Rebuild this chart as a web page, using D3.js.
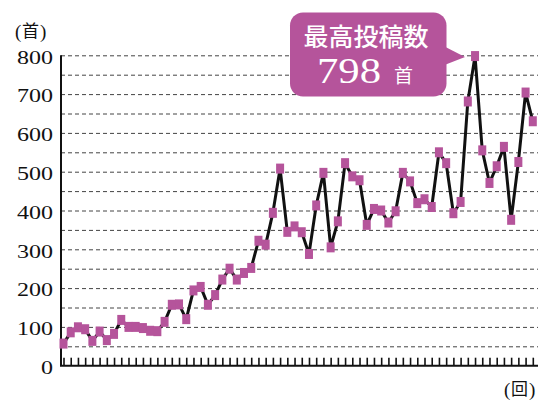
<!DOCTYPE html>
<html>
<head>
<meta charset="utf-8">
<script src="https://cdn.jsdelivr.net/npm/d3@7"></script>
</head>
<body style="margin:0">
<script>
// posts per round (首 per 回)
const rounds = d3.range(1, 67);
const posts = [
  57, 86, 99, 94, 64, 88, 66, 82, 118, 100,
  100, 97, 90, 89, 113, 157, 158, 120, 194, 203,
  157, 182, 222, 250, 222, 239, 252, 322, 312, 394,
  508, 345, 359, 344, 288, 413, 497, 305, 372, 522,
  488, 478, 363, 404, 400, 369, 398, 497, 475, 419,
  429, 409, 550, 522, 393, 422, 681, 798, 555, 471,
  514, 564, 376, 525, 704, 630,
];
const yTicks = [0, 100, 200, 300, 400, 500, 600, 700, 800];
const gridValues = d3.range(50, 801, 50);
const calloutTitle = '最高投稿数';
const maxPosts = d3.max(posts);

const purple = '#b5549b';
const SERIF = 'Liberation Serif';
const CJK = 'Noto Sans CJK JP';

const svg = d3.select('body')
  .append('svg')
  .attr('width', 556)
  .attr('height', 405)
  .style('display', 'block');

// plot frame
const plotLeft = 61;
const plotRight = 538;
const plotTop = 55.3;
const plotBottom = 365.7;

const x = d3.scaleLinear().domain([1, 66]).range([63.5, 532.8]);
const y = d3.scaleLinear().domain([0, 800]).range([plotBottom, plotTop]);

// dashed grid
svg.append('g')
  .attr('transform', `translate(${plotLeft},0)`)
  .call(d3.axisLeft(y).tickValues(gridValues).tickSize(-(plotRight - plotLeft)).tickFormat(''))
  .call(g => g.select('.domain').remove())
  .call(g => g.selectAll('.tick line')
    .attr('stroke', '#444')
    .attr('stroke-width', 1)
    .attr('stroke-dasharray', '4,3'));

// y labels, scaled sideways to the wide digits of the reference
svg.append('g')
  .attr('transform', `translate(${plotLeft},0)`)
  .call(d3.axisLeft(y).tickValues(yTicks).tickSize(0).tickPadding(8))
  .call(g => g.select('.domain').remove())
  .call(g => g.selectAll('.tick text')
    .attr('font-family', SERIF)
    .attr('font-size', 18.5)
    .attr('dy', '0.72em')
    .attr('y', -5.5)
    .attr('x', -8 / 1.3)
    .attr('fill', '#111')
    .attr('transform', 'scale(1.3,1)'));

// y axis line
svg.append('line')
  .attr('x1', plotLeft).attr('x2', plotLeft)
  .attr('y1', plotTop).attr('y2', plotBottom)
  .attr('stroke', '#111')
  .attr('stroke-width', 2);

// x axis with inward ticks, no labels
svg.append('g')
  .attr('transform', `translate(0,${plotBottom})`)
  .call(d3.axisBottom(x).tickValues(rounds).tickSize(-8).tickFormat(''))
  .call(g => g.select('.domain').remove())
  .call(g => g.selectAll('.tick line').attr('stroke', '#111').attr('stroke-width', 1.6));

svg.append('line')
  .attr('x1', plotLeft - 1).attr('x2', plotRight)
  .attr('y1', plotBottom).attr('y2', plotBottom)
  .attr('stroke', '#111')
  .attr('stroke-width', 2);

// series line
const line = d3.line()
  .x((d, i) => x(rounds[i]))
  .y(d => y(d));

svg.append('path')
  .datum(posts)
  .attr('fill', 'none')
  .attr('stroke', '#111')
  .attr('stroke-width', 3)
  .attr('stroke-linejoin', 'round')
  .attr('d', line);

// square markers
const mw = 8;
const mh = 10;
svg.append('g')
  .selectAll('rect')
  .data(posts)
  .enter()
  .append('rect')
  .attr('x', (d, i) => x(rounds[i]) - mw / 2)
  .attr('y', d => y(d) - mh / 2)
  .attr('width', mw)
  .attr('height', mh)
  .attr('fill', purple);

// unit labels
const unitLabel = (tx, ty, unit) => {
  svg.append('text')
    .attr('x', tx).attr('y', ty)
    .attr('fill', '#111')
    .attr('font-family', SERIF)
    .attr('font-size', 19)
    .text('(');
  svg.append('text')
    .attr('x', tx + 7).attr('y', ty - 1)
    .attr('fill', '#111')
    .attr('font-family', CJK)
    .attr('font-size', 17)
    .text(unit);
  svg.append('text')
    .attr('x', tx + 25).attr('y', ty)
    .attr('fill', '#111')
    .attr('font-family', SERIF)
    .attr('font-size', 19)
    .text(')');
};

unitLabel(15, 38, '首');
unitLabel(504, 396, '回');

// callout for the peak
const peakIdx = posts.indexOf(maxPosts);
const tipX = x(rounds[peakIdx]) - 10;
const tipY = y(maxPosts) + 1;
const box = { x0: 290, y0: 12.5, x1: 446.5, y1: 96.5 };

svg.append('rect')
  .attr('x', box.x0)
  .attr('y', box.y0)
  .attr('width', box.x1 - box.x0)
  .attr('height', box.y1 - box.y0)
  .attr('rx', 13)
  .attr('fill', purple);

svg.append('path')
  .attr('d', `M${box.x1 - 2},46.5 L${tipX},${tipY} L${box.x1 - 2},65 Z`)
  .attr('fill', purple);

svg.append('text')
  .attr('x', 366)
  .attr('y', 46)
  .attr('text-anchor', 'middle')
  .attr('fill', '#fff')
  .attr('font-family', CJK)
  .attr('font-weight', 500)
  .attr('font-size', 25)
  .text(calloutTitle);

svg.append('text')
  .attr('x', 317 / 1.22)
  .attr('y', 83)
  .attr('transform', 'scale(1.22,1)')
  .attr('fill', '#fff')
  .attr('font-family', SERIF)
  .attr('font-size', 35)
  .text(maxPosts);

svg.append('text')
  .attr('x', 394)
  .attr('y', 83)
  .attr('fill', '#fff')
  .attr('font-family', CJK)
  .attr('font-size', 19)
  .text('首');
</script>
</body>
</html>
